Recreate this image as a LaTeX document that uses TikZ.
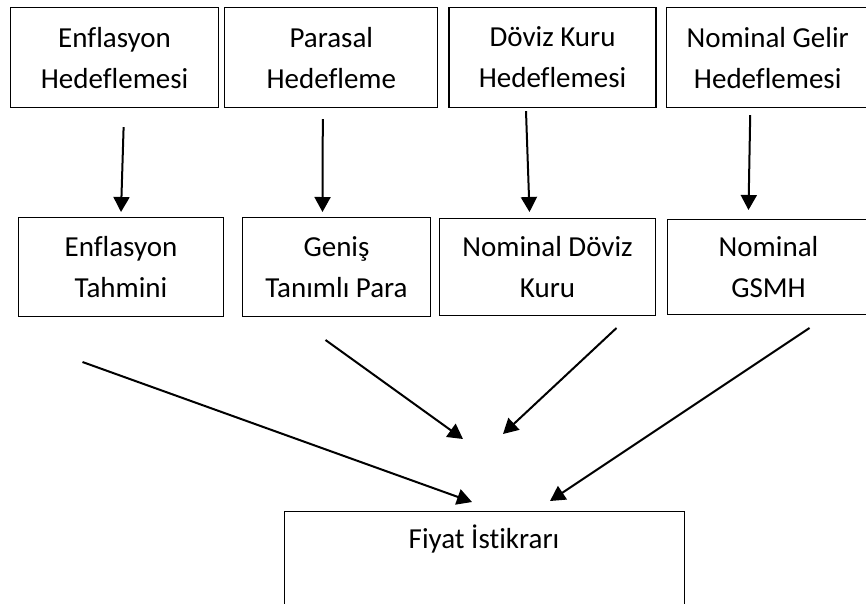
\documentclass[tikz,border=0pt]{standalone}
\usepackage{fontspec}
\setmainfont{Carlito}[Ligatures=NoCommon]
\usetikzlibrary{arrows.meta,positioning}

\begin{document}
\begin{tikzpicture}[
    x=1pt, y=-1pt,
    font=\fontsize{29}{41}\selectfont,
    target/.style={
        draw=black,
        line width=1.2pt,
        align=center,
        minimum height=100pt,
        inner sep=0pt
    },
    indicator/.style={
        draw=black,
        line width=1pt,
        align=center,
        minimum height=99pt,
        inner sep=0pt
    },
    goal/.style={
        draw=black,
        line width=1pt,
        minimum width=400pt,
        inner sep=0pt,
        text height=37pt,
        text depth=100pt
    },
    arrow/.style={-{Triangle[length=15pt, width=16pt]}, line width=2pt, draw=black}
]
\path[use as bounding box, clip] (0,0) rectangle (866,603);

\node[target, minimum width=208pt, anchor=north west] (enfhedef) at (10,7) {Enflasyon\\Hedeflemesi};
\node[target, minimum width=213pt, right=5pt of enfhedef] (parahedef) {Parasal\\Hedefleme};
\node[target, minimum width=207pt, right=10pt of parahedef] (dovizhedef) {Döviz Kuru\\Hedeflemesi};
\node[target, minimum width=203pt, right=9pt of dovizhedef] (gelirhedef) {Nominal Gelir\\Hedeflemesi};

\node[indicator, minimum width=205pt, anchor=north west] (enftahmin) at (18,217) {Enflasyon\\Tahmini};
\node[indicator, minimum width=188pt, right=18pt of enftahmin] (genispara) {Geniş\\Tanımlı Para};
\node[indicator, minimum width=216pt, minimum height=97pt, right=8pt of genispara] (dovizkuru) {Nominal Döviz\\Kuru};
\node[indicator, minimum width=202pt, minimum height=95pt, right=11pt of dovizkuru] (gsmh) {Nominal\\GSMH};

\node[goal, anchor=north] (fiyat) at (484,511) {Fiyat İstikrarı};

\draw[arrow] ([xshift=9pt, yshift=-19pt]enfhedef.south) -- ([yshift=5pt]enftahmin.north);
\draw[arrow] ([xshift=-8.5pt, yshift=-11pt]parahedef.south) -- ([xshift=-14pt, yshift=5pt]genispara.north);
\draw[arrow] ([xshift=-26.5pt, yshift=-3pt]dovizhedef.south) -- ([xshift=-18pt, yshift=6pt]dovizkuru.north);
\draw[arrow] ([xshift=-17.5pt, yshift=-7pt]gelirhedef.south) -- ([xshift=-20pt, yshift=9pt]gsmh.north);

\draw[arrow] ([xshift=-38.5pt, yshift=-45pt]enftahmin.south) -- ([xshift=-12pt, yshift=9pt]fiyat.north);
\draw[arrow] ([xshift=-11pt, yshift=-23pt]genispara.south) -- ([xshift=-21pt, yshift=72pt]fiyat.north);
\draw[arrow] ([xshift=69pt, yshift=-12pt]dovizkuru.south) -- ([xshift=19pt, yshift=77pt]fiyat.north);
\draw[arrow] ([xshift=41pt, yshift=-13pt]gsmh.south) -- ([xshift=66pt, yshift=10pt]fiyat.north);
\end{tikzpicture}
\end{document}
